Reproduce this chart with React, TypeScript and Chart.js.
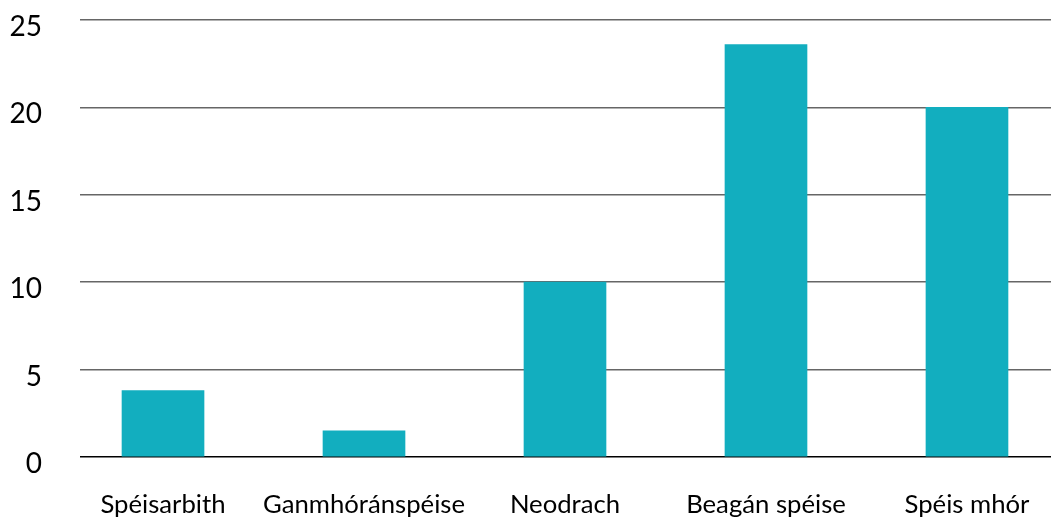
import React, { useEffect, useRef } from "react";
import { Chart, registerables } from "chart.js";

Chart.register(...registerables);

const categories = ["Spéisarbith", "Ganmhóránspéise", "Neodrach", "Beagán spéise", "Spéis mhór"];
const values = [3.8, 1.5, 10, 23.6, 20];
const yTicks = [0, 5, 10, 15, 20, 25];

export default function App() {
  const ref = useRef<HTMLCanvasElement | null>(null);

  useEffect(() => {
    if (!ref.current) return;
    const chart = new Chart(ref.current, {
      type: "bar",
      data: {
        datasets: [
          {
            data: categories.map((c, i) => ({ x: i, y: values[i] })),
            backgroundColor: "#12aebf",
            barThickness: 82,
          },
        ],
      },
      options: {
        responsive: false,
        animation: false,
        layout: { padding: { top: 20, right: 0, left: 0, bottom: 0 } },
        plugins: { legend: { display: false }, tooltip: { enabled: false } },
        scales: {
          x: {
            type: "linear",
            offset: false,
            min: -0.413,
            max: 4.418,
            grid: { display: false },
            border: { display: false },
            afterFit: (s: any) => {
              s.height = 62;
              s.paddingLeft = 0;
              s.paddingRight = 0;
            },
            ticks: {
              stepSize: 1,
              includeBounds: false,
              autoSkip: false,
              maxRotation: 0,
              padding: 24,
              color: "#000",
              font: { family: "Lato", size: 25.7 },
              callback: (v: any) => (Number.isInteger(v) && categories[v] !== undefined ? categories[v] : ""),
            },
          },
          y: {
            min: 0,
            max: 25,
            afterFit: (s: any) => {
              s.width = 80;
              s.paddingTop = 0;
              s.paddingBottom = 0;
            },
            afterBuildTicks: (s: any) => {
              s.ticks = yTicks.map((v) => ({ value: v }));
            },
            border: { display: false },
            grid: {
              drawTicks: false,
              color: (ctx: any) => (ctx.tick && ctx.tick.value === 0 ? "#000" : "#666"),
              lineWidth: 1.5,
            },
            ticks: {
              padding: 38,
              labelOffset: 7,
              color: "#000",
              font: { family: "Lato", size: 28 },
            },
          },
        },
      },
    });
    return () => chart.destroy();
  }, []);

  return (
    <div style={{ position: "fixed", left: 0, top: 0, width: 1051, height: 519 }}>
      <canvas ref={ref} width={1051} height={519} />
    </div>
  );
}
